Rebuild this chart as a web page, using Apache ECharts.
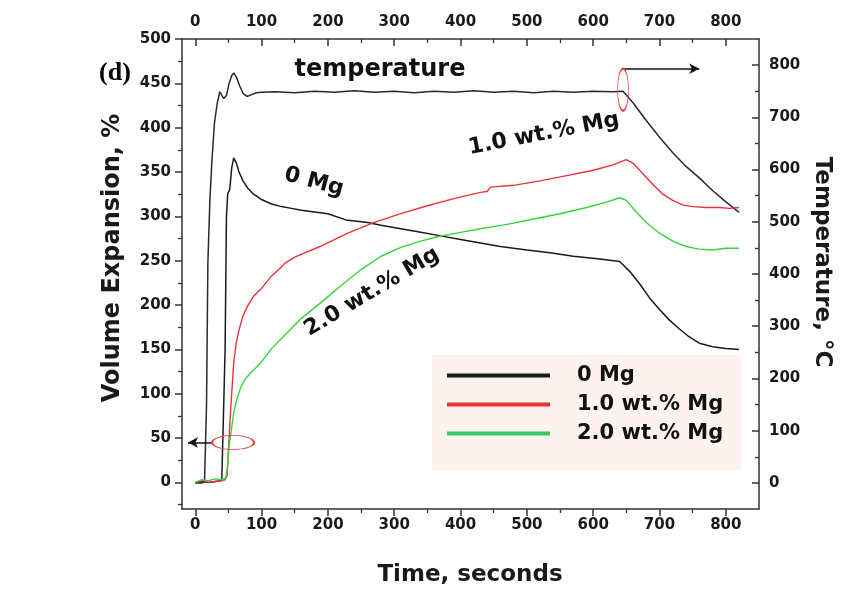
<!DOCTYPE html>
<html><head><meta charset="utf-8">
<script src="https://cdn.jsdelivr.net/npm/echarts@6/dist/echarts.min.js"></script>
<style>html,body{margin:0;padding:0;background:#fff}#c{width:841px;height:593px}</style>
</head><body><div id="c"></div>
<script>
// ---- data ----
const timeTicks = [0, 100, 200, 300, 400, 500, 600, 700, 800];
const timeMinor = [50, 150, 250, 350, 450, 550, 650, 750];
const expTicks = [0, 50, 100, 150, 200, 250, 300, 350, 400, 450, 500];
const expMinor = [-25, 25, 75, 125, 175, 225, 275, 325, 375, 425, 475];
const tempTicks = [0, 100, 200, 300, 400, 500, 600, 700, 800];
const tempMinor = [50, 150, 250, 350, 450, 550, 650, 750];
const legendNames = ['0 Mg', '1.0 wt.% Mg', '2.0 wt.% Mg'];

const tempTime = [0, 10, 14, 17, 19, 22, 25, 29, 33, 37, 40, 43, 47, 51, 55, 58, 62, 67, 72, 78, 84, 92, 100, 120, 150, 180, 210, 240, 270, 300, 330, 360, 390, 420, 450, 480, 510, 540, 570, 600, 630, 645, 660, 680, 700, 720, 740, 760, 780, 800, 820];
const tempVals = [0, 0, 2, 150, 420, 540, 615, 690, 726, 749, 742, 736, 742, 765, 780, 785, 777, 760, 746, 740, 743, 747, 748, 749, 747, 750, 748, 751, 748, 750, 747, 750, 748, 751, 748, 750, 747, 750, 748, 750, 749, 750, 728, 694, 662, 632, 606, 584, 560, 538, 518];

const mg0Time = [0, 10, 20, 30, 40, 43, 45, 47, 49, 52, 55, 58, 62, 66, 72, 79, 88, 100, 115, 130, 145, 160, 180, 200, 227, 230, 260, 280, 310, 340, 370, 400, 430, 460, 500, 535, 570, 610, 640, 655, 670, 685, 700, 715, 730, 745, 760, 780, 800, 820];
const mg0Vals = [0, 1, 0, 1, 2, 2, 150, 300, 326, 330, 355, 366, 360, 350, 340, 332, 325, 319, 314, 311, 309, 307, 305, 303, 296, 298, 293, 290, 286, 282, 278, 274, 270, 266, 262, 259, 255, 252, 249, 238, 224, 208, 195, 183, 173, 164, 157, 153, 151, 150];

const mg1Time = [0, 10, 20, 30, 40, 45, 48, 51, 54, 58, 62, 66, 72, 79, 88, 99, 114, 130, 135, 150, 188, 230, 269, 310, 350, 390, 430, 440, 445, 480, 520, 560, 600, 630, 650, 660, 675, 690, 705, 720, 735, 750, 770, 790, 805, 820];
const mg1Vals = [0, 2, 0, 1, 2, 3, 8, 50, 90, 135, 158, 172, 188, 199, 210, 218, 232, 243, 247, 254, 266, 281, 293, 303, 312, 320, 327, 328, 333, 335, 340, 346, 352, 358, 364, 360, 348, 336, 325, 318, 313, 311, 310, 310, 309, 310];

const mg2Time = [0, 10, 20, 30, 40, 46, 49, 51, 55, 58, 63, 69, 76, 84, 99, 114, 140, 160, 190, 220, 250, 280, 310, 340, 365, 400, 430, 470, 510, 550, 590, 620, 640, 650, 665, 680, 700, 720, 740, 760, 780, 800, 820];
const mg2Vals = [0, 3, 2, 4, 3, 5, 20, 41, 62, 79, 95, 108, 117, 124, 135, 150, 170, 185, 203, 222, 240, 255, 265, 272, 277, 282, 286, 291, 297, 303, 310, 316, 321, 318, 305, 293, 281, 272, 266, 263, 262, 264, 264];

const zip = (a, b) => a.map((v, i) => [v, b[i]]);

const FONT = 'DejaVu Sans';
const lbl = { fontFamily: FONT, fontWeight: 'bold', fontSize: 15, color: '#1a1a1a' };
const axLine = { show: true, onZero: false, lineStyle: { color: '#333', width: 1.5 } };

function axisPair(pos, min, max, major, minor, inside, labelMargin) {
  const base = { type: 'value', position: pos, min: min, max: max, splitLine: { show: false } };
  const main = Object.assign({}, base, {
    axisLine: axLine,
    axisTick: { show: true, inside: inside, length: 7, customValues: major, lineStyle: { color: '#333', width: 1.5 } },
    axisLabel: Object.assign({ show: true, margin: labelMargin, customValues: major }, lbl)
  });
  const mn = Object.assign({}, base, {
    axisLine: { show: false, onZero: false },
    axisTick: { show: true, inside: inside, length: 4, customValues: minor, lineStyle: { color: '#333', width: 1.3 } },
    axisLabel: { show: false }
  });
  return [main, mn];
}

const xAxes = [].concat(
  axisPair('bottom', -20, 850, timeTicks, timeMinor, false, 9),
  axisPair('top', -20, 850, timeTicks, timeMinor, true, 9)
);
const yAxes = [].concat(
  axisPair('left', -30, 500, expTicks, expMinor, false, 11),
  axisPair('right', -50, 850, tempTicks, tempMinor, true, 10)
);

const chart = echarts.init(document.getElementById('c'));
const lineBase = { type: 'line', showSymbol: false, symbol: 'none', xAxisIndex: 0 };

chart.setOption({
  animation: false,
  backgroundColor: '#fff',
  grid: { left: 182, right: 82, top: 39, bottom: 84 },
  xAxis: xAxes,
  yAxis: yAxes,
  legend: {
    data: legendNames, orient: 'vertical', left: 432, top: 355,
    icon: 'rect', itemWidth: 103, itemHeight: 4, itemGap: 8,
    backgroundColor: '#fdf3ee', padding: [10, 18, 26, 15], selectedMode: false,
    textStyle: { fontFamily: FONT, fontWeight: 'bold', fontSize: 21, color: '#111', padding: [0, 0, 0, 22] }
  },
  series: [
    Object.assign({}, lineBase, {
      name: 'temperature', yAxisIndex: 2, data: zip(tempTime, tempVals),
      lineStyle: { color: '#2a2a2a', width: 1.5 }, itemStyle: { color: '#2a2a2a' },
      markPoint: { silent: true, label: { show: false }, data: [{ coord: [645, 753], symbol: 'circle', symbolSize: [11, 42],
        itemStyle: { color: 'rgba(0,0,0,0)', borderColor: '#e0443e', borderWidth: 1.3 } }] },
      markLine: { silent: true, symbol: ['none', 'arrow'], symbolSize: [8, 10], label: { show: false },
        lineStyle: { color: '#111', width: 1.5, type: 'solid' },
        data: [[{ coord: [645, 793] }, { coord: [760, 793] }]] }
    }),
    Object.assign({}, lineBase, {
      name: '0 Mg', yAxisIndex: 0, data: zip(mg0Time, mg0Vals),
      lineStyle: { color: '#1a1a1a', width: 1.5 }, itemStyle: { color: '#1a1a1a' }
    }),
    Object.assign({}, lineBase, {
      name: '1.0 wt.% Mg', yAxisIndex: 0, data: zip(mg1Time, mg1Vals),
      lineStyle: { color: '#e8333a', width: 1.4 }, itemStyle: { color: '#e0333a' },
      markPoint: { silent: true, label: { show: false }, data: [{ coord: [57, 45], symbol: 'circle', symbolSize: [42, 14],
        itemStyle: { color: 'rgba(0,0,0,0)', borderColor: '#e0443e', borderWidth: 1.3 } }] },
      markLine: { silent: true, symbol: ['none', 'arrow'], symbolSize: [8, 10], label: { show: false },
        lineStyle: { color: '#111', width: 1.5, type: 'solid' },
        data: [[{ coord: [27, 45] }, { coord: [-11, 45] }]] }
    }),
    Object.assign({}, lineBase, {
      name: '2.0 wt.% Mg', yAxisIndex: 0, data: zip(mg2Time, mg2Vals),
      lineStyle: { color: '#36d43c', width: 1.4 }, itemStyle: { color: '#3cc862' }
    })
  ],
  graphic: [
    { type: 'text', x: 115, y: 73, style: { text: '(d)', font: 'bold 26px "Liberation Serif"', fill: '#000', textAlign: 'center', textVerticalAlign: 'middle' } },
    { type: 'text', x: 113, y: 258, rotation: Math.PI / 2, style: { text: 'Volume Expansion, %', font: 'bold 24px "DejaVu Sans"', fill: '#1a1a1a', textAlign: 'center', textVerticalAlign: 'middle' } },
    { type: 'text', x: 470, y: 575, style: { text: 'Time, seconds', font: 'bold 23px "DejaVu Sans"', fill: '#1a1a1a', textAlign: 'center', textVerticalAlign: 'middle' } },
    { type: 'text', x: 822, y: 262, rotation: -Math.PI / 2, style: { text: 'Temperature, °C', font: 'bold 23px "DejaVu Sans"', fill: '#1a1a1a', textAlign: 'center', textVerticalAlign: 'middle' } },
    { type: 'text', x: 380, y: 70, style: { text: 'temperature', font: 'bold 24px "DejaVu Sans"', fill: '#111', textAlign: 'center', textVerticalAlign: 'middle' } },
    { type: 'text', x: 314, y: 182, rotation: -0.26, style: { text: '0 Mg', font: 'bold 22px "DejaVu Sans"', fill: '#111', textAlign: 'center', textVerticalAlign: 'middle' } },
    { type: 'text', x: 544, y: 134, rotation: 0.19, style: { text: '1.0 wt.% Mg', font: 'bold 22px "DejaVu Sans"', fill: '#111', textAlign: 'center', textVerticalAlign: 'middle' } },
    { type: 'text', x: 372, y: 292, rotation: 0.54, style: { text: '2.0 wt.% Mg', font: 'bold 22px "DejaVu Sans"', fill: '#111', textAlign: 'center', textVerticalAlign: 'middle' } }
  ]
});
</script></body></html>
